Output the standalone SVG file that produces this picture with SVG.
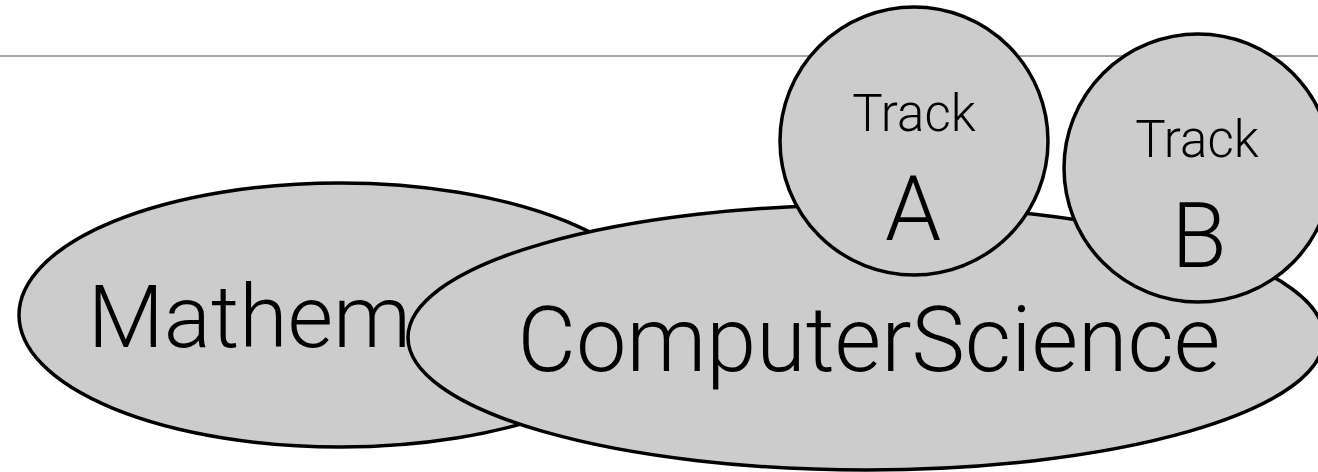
<svg xmlns="http://www.w3.org/2000/svg" width="1318" height="472" viewBox="0 0 1318 472">
  <style>
    .shape { fill: #cccccc; stroke: #000000; stroke-width: 3.5; }
    .lbl { font-family: Roboto, "Liberation Sans", Arial, sans-serif; font-weight: 300; fill: #000000; text-anchor: middle; }
    .big { font-size: 90px; }
    .small { font-size: 51px; }
  </style>
  <rect x="0" y="0" width="1318" height="472" fill="#ffffff"/>
  <g id="rule">
    <line x1="0" y1="56" x2="1318" y2="56" stroke="#a6a6a6" stroke-width="2"/>
  </g>
  <g id="connectors"></g>
  <g id="mathematics">
    <ellipse class="shape" cx="340" cy="315" rx="321" ry="132"/>
    <text class="lbl" style="font-size:88px" x="342" y="347">Mathematics</text>
  </g>
  <g id="computer-science">
    <ellipse class="shape" cx="866" cy="337.5" rx="458" ry="132.5"/>
    <text class="lbl big" x="869" y="371">ComputerScience</text>
  </g>
  <g id="track-a">
    <circle class="shape" cx="914" cy="141" r="134"/>
    <text class="lbl small" x="914" y="131">Track</text>
    <text class="lbl big" x="913" y="240">A</text>
  </g>
  <g id="track-b">
    <circle class="shape" cx="1198" cy="168" r="134"/>
    <text class="lbl small" x="1197" y="157">Track</text>
    <text class="lbl big" x="1199" y="267">B</text>
  </g>
</svg>
